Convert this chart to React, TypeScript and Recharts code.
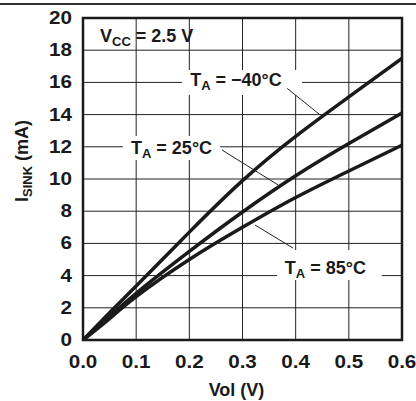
import React from 'react';
import {
  LineChart, Line, XAxis, YAxis, CartesianGrid, ReferenceArea, ReferenceLine, Label,
} from 'recharts';

// ---- data ----
const VOL = [0, 0.05, 0.1, 0.2, 0.3, 0.4, 0.5, 0.6];
const I_M40 = [0, 1.7, 3.35, 6.7, 9.9, 12.65, 15.1, 17.5];
const I_25 = [0, 1.45, 2.9, 5.5, 7.95, 10.2, 12.2, 14.1];
const I_85 = [0, 1.33, 2.7, 5.0, 7.0, 8.85, 10.5, 12.1];
const X_TICKS = [0, 0.1, 0.2, 0.3, 0.4, 0.5, 0.6];
const Y_TICKS = [0, 2, 4, 6, 8, 10, 12, 14, 16, 18, 20];
const SERIES = [
  { key: 'm40', name: 'TA = −40°C', values: I_M40 },
  { key: 't25', name: 'TA = 25°C', values: I_25 },
  { key: 't85', name: 'TA = 85°C', values: I_85 },
];

const data = VOL.map((v, i) => {
  const row: any = { v };
  SERIES.forEach((s) => { row[s.key] = s.values[i]; });
  return row;
});

// ---- annotations (layout) ----
const ANNOTS = [
  { main: 'T', sub: 'A', rest: ' = −40°C', box: [0.186, 0.412, 15.22, 16.77], dx: -6, dy: -2.5, lead: [0.384, 15.63, 0.446, 13.98] },
  { main: 'T', sub: 'A', rest: ' = 25°C', box: [0.075, 0.258, 11.18, 12.67], dx: 0, dy: -1, lead: [0.2615, 11.8, 0.367, 9.63] },
  { main: 'T', sub: 'A', rest: ' = 85°C', box: [0.365, 0.562, 3.73, 5.59], dx: -4, dy: 3, lead: [0.3235, 7.14, 0.395, 5.71] },
];

const FONT = '"Liberation Sans", Arial, Helvetica, sans-serif';
const INK = '#1a1a1a';

function SText({ x, y, children, anchor = 'middle', size = 17.5, sx = 1.18 }: any) {
  return (
    <text
      transform={`translate(${x},${y}) scale(${sx},1)`}
      textAnchor={anchor}
      fontFamily={FONT}
      fontWeight="bold"
      fontSize={size}
      fill={INK}
    >
      {children}
    </text>
  );
}

const renderXTick = (p: any) => (
  <SText x={p.x} y={p.y + 28}>{Number(p.payload.value).toFixed(1)}</SText>
);
const renderYTick = (p: any) => (
  <SText x={p.x} y={p.y + 6} anchor="end">{String(p.payload.value)}</SText>
);

function annotContent(a: any) {
  return (props: any) => {
    const vb = props.viewBox || {};
    const cx = vb.x + vb.width / 2 + a.dx;
    const cy = vb.y + vb.height / 2 + a.dy;
    return (
      <text x={cx} y={cy + 6.5} textAnchor="middle" fontFamily={FONT} fontWeight="bold" fontSize={18} fill={INK}>
        {a.main}
        <tspan fontSize={13} dy={4}>{a.sub}</tspan>
        <tspan dy={-4}>{a.rest}</tspan>
      </text>
    );
  };
}

export default function App() {
  return (
    <div style={{ position: 'absolute', left: 0, top: 0, width: 416, height: 401, background: '#fff' }}>
      <div style={{ position: 'absolute', left: 0, top: 3, width: 416, height: 1.5, background: '#333' }} />
      <LineChart width={416} height={401} data={data} margin={{ top: 18, right: 14, left: 0, bottom: 0 }}>
        <CartesianGrid stroke="#222" strokeWidth={1} />
        <XAxis
          type="number"
          dataKey="v"
          domain={[0, 0.6]}
          ticks={X_TICKS}
          height={61}
          axisLine={false}
          tickLine={false}
          tickSize={0}
          tickMargin={0}
          tick={renderXTick}
          allowDataOverflow
        >
          <Label
            content={(props: any) => {
              const vb = props.viewBox || {};
              return (
                <text x={vb.x + vb.width / 2 - 6} y={vb.y + 56} textAnchor="middle" fontFamily={FONT} fontWeight="bold" fontSize={18} fill={INK}>
                  Vol (V)
                </text>
              );
            }}
          />
        </XAxis>
        <YAxis
          type="number"
          domain={[0, 20]}
          ticks={Y_TICKS}
          width={83}
          axisLine={false}
          tickLine={false}
          tickSize={0}
          tickMargin={11}
          tick={renderYTick}
          allowDataOverflow
        >
          <Label
            content={() => (
              <text transform="translate(28,161) rotate(-90)" textAnchor="middle" fontFamily={FONT} fontWeight="bold" fontSize={18} fill={INK}>
                I
                <tspan fontSize={13} dy={4}>SINK</tspan>
                <tspan dy={-4}> (mA)</tspan>
              </text>
            )}
          />
        </YAxis>
        {ANNOTS.map((a, i) => (
          <ReferenceArea
            key={'box' + i}
            x1={a.box[0]}
            x2={a.box[1]}
            y1={a.box[2]}
            y2={a.box[3]}
            fill="#fff"
            fillOpacity={1}
            stroke="none"
            ifOverflow="visible"
          >
            <Label content={annotContent(a)} />
          </ReferenceArea>
        ))}
        {ANNOTS.map((a, i) => (
          <ReferenceLine
            key={'lead' + i}
            segment={[{ x: a.lead[0], y: a.lead[1] }, { x: a.lead[2], y: a.lead[3] }]}
            stroke="#222"
            strokeWidth={1}
            ifOverflow="visible"
          />
        ))}
        <ReferenceArea x1={0} x2={0.6} y1={0} y2={20} fill="none" stroke={INK} strokeWidth={2.5} ifOverflow="visible">
          <Label
            content={(props: any) => {
              const vb = props.viewBox || {};
              return (
                <text x={vb.x + 17} y={vb.y + 24} fontFamily={FONT} fontWeight="bold" fontSize={18} fill={INK}>
                  V
                  <tspan fontSize={13} dy={4}>CC</tspan>
                  <tspan dy={-4}> = 2.5 V</tspan>
                </text>
              );
            }}
          />
        </ReferenceArea>
        {SERIES.map((s) => (
          <Line
            key={s.key}
            dataKey={s.key}
            name={s.name}
            type="natural"
            stroke={INK}
            strokeWidth={3.5}
            dot={false}
            activeDot={false}
            isAnimationActive={false}
          />
        ))}
      </LineChart>
    </div>
  );
}
